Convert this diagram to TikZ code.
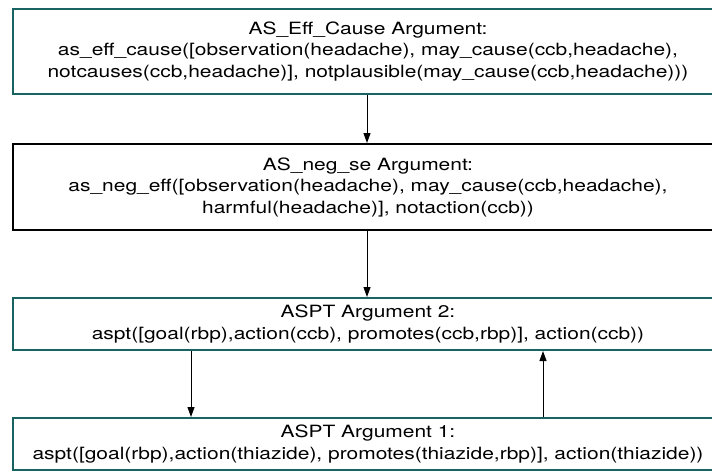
\documentclass[tikz,border=0pt]{standalone}
\usepackage{fontspec}
\setmainfont[FakeStretch=1.24]{TeX Gyre Heros}
\usetikzlibrary{arrows.meta}
\definecolor{tealb}{HTML}{1A6363}
\begin{document}
\begin{tikzpicture}[x=1pt,y=-1pt,
  argbox/.style={draw=tealb,line width=2pt,fill=white,minimum width=710pt,
    align=center,inner sep=0pt,font=\fontsize{16.9}{21.5}\selectfont},
  blackbox/.style={argbox,draw=black},
  conn/.style={line width=1pt,-{Triangle[length=10pt,width=7pt]}}]
\useasboundingbox (0,0) rectangle (712,475);
\clip (0,0) rectangle (712,475);
\node[argbox,minimum height=85pt] (b1) at (368,51.5) {AS\_Eff\_Cause Argument:\\as\_eff\_cause([observation(headache), may\_cause(ccb,headache),\\notcauses(ccb,headache)], notplausible(may\_cause(ccb,headache)))};
\node[blackbox,minimum height=86pt] (b2) at (368,187) {AS\_neg\_se Argument:\\as\_neg\_eff([observation(headache), may\_cause(ccb,headache),\\harmful(headache)], notaction(ccb))};
\node[argbox,minimum height=52pt] (b3) at (368,324) {ASPT Argument 2:\\aspt([goal(rbp),action(ccb), promotes(ccb,rbp)], action(ccb))};
\node[argbox,minimum height=52pt] (b4) at (368,444) {ASPT Argument 1:\\aspt([goal(rbp),action(thiazide), promotes(thiazide,rbp)], action(thiazide))};
\draw[conn] (b1.south -| 367,0) -- (b2.north -| 367,0);
\draw[conn] (b2.south -| 367,0) -- (b3.north -| 367,0);
\draw[conn] (b3.south -| 191,0) -- (b4.north -| 191,0);
\draw[conn] (b4.north -| 543,0) -- (b3.south -| 543,0);
\end{tikzpicture}
\end{document}
